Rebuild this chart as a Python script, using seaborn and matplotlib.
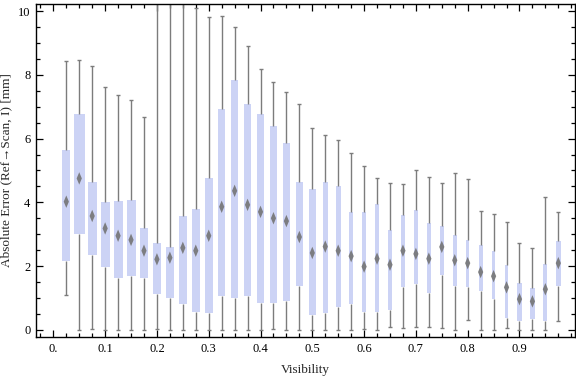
import numpy as np
import pandas as pd
import matplotlib
matplotlib.use("Agg")
import matplotlib.pyplot as plt
from matplotlib.path import Path
from matplotlib.ticker import MultipleLocator, FixedLocator
import seaborn as sns

# ---------------- data ----------------
visibility = [0.025, 0.05, 0.075, 0.1, 0.125, 0.15, 0.175, 0.2, 0.225, 0.25,
              0.275, 0.3, 0.325, 0.35, 0.375, 0.4, 0.425, 0.45, 0.475, 0.5,
              0.525, 0.55, 0.575, 0.6, 0.625, 0.65, 0.675, 0.7, 0.725, 0.75,
              0.775, 0.8, 0.825, 0.85, 0.875, 0.9, 0.925, 0.95, 0.975]
err_min = [1.09, 0.00, 0.02, 0.00, 0.00, 0.00, 0.00, 0.02, 0.00, 0.00,
           0.00, 0.00, 0.00, 0.00, 0.00, 0.00, 0.03, 0.00, 0.00, 0.00,
           0.00, 0.00, 0.00, 0.02, 0.00, 0.08, 0.05, 0.08, 0.08, 0.05,
           0.00, 0.30, 0.00, 0.00, 0.05, 0.00, 0.00, 0.00, 0.26]
err_q1 = [2.17, 3.01, 2.36, 1.96, 1.61, 1.68, 1.61, 1.13, 1.00, 0.82,
          0.57, 0.53, 1.05, 1.00, 1.07, 0.85, 0.85, 0.91, 1.38, 0.47,
          0.53, 0.70, 0.82, 0.57, 0.57, 0.63, 1.35, 1.44, 1.16, 1.73,
          1.38, 1.34, 1.21, 0.96, 0.36, 0.28, 0.33, 0.28, 1.36]
err_median = [4.02, 4.75, 3.57, 3.18, 2.95, 2.82, 2.48, 2.21, 2.26, 2.57,
              2.48, 2.95, 3.86, 4.36, 3.92, 3.70, 3.50, 3.41, 2.91, 2.41,
              2.61, 2.48, 2.31, 1.98, 2.23, 2.04, 2.48, 2.38, 2.23, 2.60,
              2.18, 2.09, 1.81, 1.68, 1.33, 0.96, 0.89, 1.27, 2.09]
err_q3 = [5.64, 6.77, 4.64, 4.01, 4.04, 4.07, 3.19, 2.72, 2.60, 3.57,
          3.79, 4.76, 6.93, 7.84, 7.09, 6.77, 6.40, 5.85, 4.64, 4.42,
          4.64, 4.51, 3.70, 3.70, 3.95, 3.13, 3.60, 3.76, 3.35, 3.26,
          2.96, 2.82, 2.66, 2.47, 2.02, 1.47, 1.31, 2.06, 2.78]
err_max = [8.43, 8.46, 8.27, 7.61, 7.36, 7.20, 6.67, 11.5, 11.5, 11.5,
           10.09, 9.82, 9.85, 9.49, 8.90, 8.18, 7.77, 7.45, 7.08, 6.32,
           6.10, 5.95, 5.54, 5.14, 4.75, 4.61, 4.57, 5.01, 4.78, 4.61,
           4.91, 4.72, 3.73, 3.62, 3.37, 2.71, 2.56, 4.17, 3.70]

x_tick_values = [0.0, 0.1, 0.2, 0.3, 0.4, 0.5, 0.6, 0.7, 0.8, 0.9]
x_tick_labels = ["0.", "0.1", "0.2", "0.3", "0.4", "0.5", "0.6", "0.7", "0.8", "0.9"]
y_tick_values = [0, 2, 4, 6, 8, 10]

# ---------------- style ----------------
box_color = "#CCD3F5"
line_color = "#7c7c7c"
diamond_color = "#747474"
# apparent box widths in pixels (they shrink with visibility in the reference)
box_width_px = [8, 11, 9, 9, 9, 9, 8.5, 8, 8, 8, 8, 8, 7, 7, 7, 7, 7, 7, 7, 6.5,
                5, 5, 4, 4, 4, 4, 4, 4, 4, 4, 4, 3, 4, 3, 3, 5, 5, 4, 5]
px_per_unit = 517.0

sns.set_style("ticks")
plt.rcParams["font.family"] = ["Liberation Serif", "DejaVu Serif"]
plt.rcParams["xtick.direction"] = "in"
plt.rcParams["ytick.direction"] = "in"

fig = plt.figure(figsize=(5.76, 3.77), dpi=100)
ax = fig.add_axes([36 / 576, 1 - 337 / 377, (575 - 36) / 576, (337 - 4) / 377])

# Long table: five-number summary per bin -> linear percentiles reproduce it exactly
rows = []
for i, v in enumerate(visibility):
    for val in (err_min[i], err_q1[i], err_median[i], err_q3[i], err_max[i]):
        rows.append({"Visibility": v, "Error": val})
df = pd.DataFrame(rows)

sns.boxplot(data=df, x="Visibility", y="Error", native_scale=True,
            whis=(0, 100), width=0.6, color=box_color, saturation=1,
            linecolor=line_color, linewidth=1.0, showcaps=False,
            showfliers=False, fill=True,
            boxprops={"linewidth": 0, "edgecolor": "none", "facecolor": box_color},
            whiskerprops={"color": line_color, "linewidth": 1.0},
            medianprops={"visible": False}, ax=ax)

# per-box widths
pos = np.array(visibility)
for patch in list(ax.patches):
    try:
        path = patch.get_path()
    except Exception:
        continue
    verts = path.vertices.copy()
    if len(verts) < 4:
        continue
    cx = (verts[:, 0].min() + verts[:, 0].max()) / 2
    idx = int(np.argmin(np.abs(pos - cx)))
    hw = box_width_px[idx] / px_per_unit / 2
    verts[:, 0] = np.where(verts[:, 0] < cx, pos[idx] - hw, pos[idx] + hw)
    patch.set_path(Path(verts, path.codes))
    patch.set_zorder(2)

# whisker caps
cap_hw = 2.0 / px_per_unit
ax.hlines(err_max, pos - cap_hw, pos + cap_hw, color=line_color, linewidth=1.0, zorder=1.5)
ax.hlines(err_min, pos - cap_hw, pos + cap_hw, color=line_color, linewidth=1.0, zorder=1.5)

# median diamonds
diamond = Path([(0, 1), (0.42, 0), (0, -1), (-0.42, 0), (0, 1)],
               [Path.MOVETO, Path.LINETO, Path.LINETO, Path.LINETO, Path.CLOSEPOLY])
sns.scatterplot(x=visibility, y=err_median, marker=diamond, s=80,
                color=diamond_color, edgecolor="none", alpha=0.9, zorder=3, ax=ax)

ax.set_xlim(-0.0335, 1.0072)
ax.set_ylim(-0.229, 10.226)
ax.xaxis.set_major_locator(FixedLocator(x_tick_values))
ax.set_xticklabels(x_tick_labels)
ax.xaxis.set_minor_locator(MultipleLocator(0.025))
ax.yaxis.set_major_locator(FixedLocator(y_tick_values))
ax.set_yticklabels([str(v) for v in y_tick_values])
ax.yaxis.set_minor_locator(MultipleLocator(0.5))

ax.tick_params(which="both", top=True, right=True, direction="in",
               labelsize=9, colors="black", width=0.9)
ax.tick_params(which="major", length=5, pad=4)
ax.tick_params(which="minor", length=3)
for sp in ax.spines.values():
    sp.set_visible(True)
    sp.set_linewidth(1.0)
    sp.set_color("black")

ax.set_xlabel("Visibility", fontsize=9.5, labelpad=7)
ax.set_ylabel("Absolute Error (Ref\u2192Scan, I) [mm]", fontsize=9.5, labelpad=4)
if ax.get_legend() is not None:
    ax.get_legend().remove()

fig.savefig("out.png", dpi=100)
